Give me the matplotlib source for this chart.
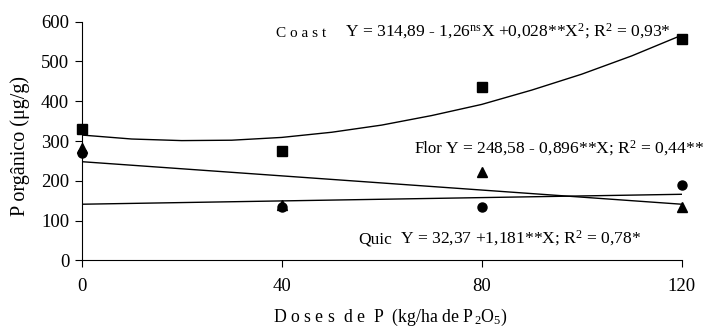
import matplotlib
matplotlib.use('Agg')
import matplotlib.pyplot as plt

plt.rcParams['font.family'] = ['Liberation Serif', 'DejaVu Serif']
plt.rcParams['mathtext.fontset'] = 'custom'
plt.rcParams['mathtext.rm'] = 'Liberation Serif'
plt.rcParams['mathtext.it'] = 'Liberation Serif:italic'

doses = [0, 40, 80, 120]
coast = [330, 275, 436, 557]
flor = [282, 139, 221, 135]
quic = [270, 135, 134, 190]

# fitted curves as drawn in the figure
coast_fit_x = [0, 10, 20, 30, 40, 50, 60, 70, 80, 90, 100, 110, 120]
coast_fit_y = [315, 305, 301, 302, 309, 322, 340, 364, 392, 428, 468, 514, 566]
flor_fit_x = [0, 120]
flor_fit_y = [248, 141]
quic_fit_x = [0, 120]
quic_fit_y = [141, 166]

fig = plt.figure(figsize=(7.15, 3.28), dpi=100)
ax = fig.add_axes([81.7 / 715, 1 - 260.3 / 328, 600 / 715, 238.6 / 328])

ax.plot(coast_fit_x, coast_fit_y, color='black', lw=1)
ax.plot(flor_fit_x, flor_fit_y, color='black', lw=1)
ax.plot(quic_fit_x, quic_fit_y, color='black', lw=1)

ax.plot(doses, coast, 's', color='black', ms=6.5, clip_on=False, zorder=5)
ax.plot(doses, flor, '^', color='black', ms=7, clip_on=False, zorder=5)
ax.plot(doses, quic, 'o', color='black', ms=6.5, clip_on=False, zorder=5)

ax.set_xlim(0, 120)
ax.set_ylim(0, 600)
ax.set_xticks([0, 40, 80, 120])
ax.set_yticks(range(0, 601, 100))
ax.spines['top'].set_visible(False)
ax.spines['right'].set_visible(False)
ax.tick_params(direction='out', length=5, width=0.8, labelsize=13.5, pad=8)
ax.tick_params(axis='y', pad=4)

fig.text(20 / 715, 1 - 146 / 328, 'P orgânico (μg/g)', rotation=90,
         ha='center', va='center', fontsize=14.5)
fig.text(390 / 715, 1 - 317 / 328, 'D o s e s  d e  P  (kg/ha de P$_{\\,2}$O$_5$)',
         ha='center', va='center', fontsize=12.8)

eq_size = 12.6
fig.text(276 / 715, 1 - 36.7 / 328, 'C o a s t', fontsize=11, ha='left', va='baseline')
fig.text(345 / 715, 1 - 36.7 / 328,
         'Y = 314,89 - 1,26$^{\\rm ns}$X +0,028**X$^2$; R$^2$ = 0,93*',
         fontsize=eq_size, ha='left', va='baseline')
fig.text(415 / 715, 1 - 153 / 328, 'Flor', fontsize=12, ha='left', va='baseline')
fig.text(445 / 715, 1 - 153 / 328,
         'Y = 248,58 - 0,896**X; R$^2$ = 0,44**',
         fontsize=eq_size, ha='left', va='baseline')
fig.text(358 / 715, 1 - 243 / 328, 'Quic', fontsize=12.5, ha='left', va='baseline')
fig.text(400 / 715, 1 - 243 / 328,
         'Y = 32,37 +1,181**X; R$^2$ = 0,78*',
         fontsize=eq_size, ha='left', va='baseline')

fig.savefig('out.png', dpi=100)
